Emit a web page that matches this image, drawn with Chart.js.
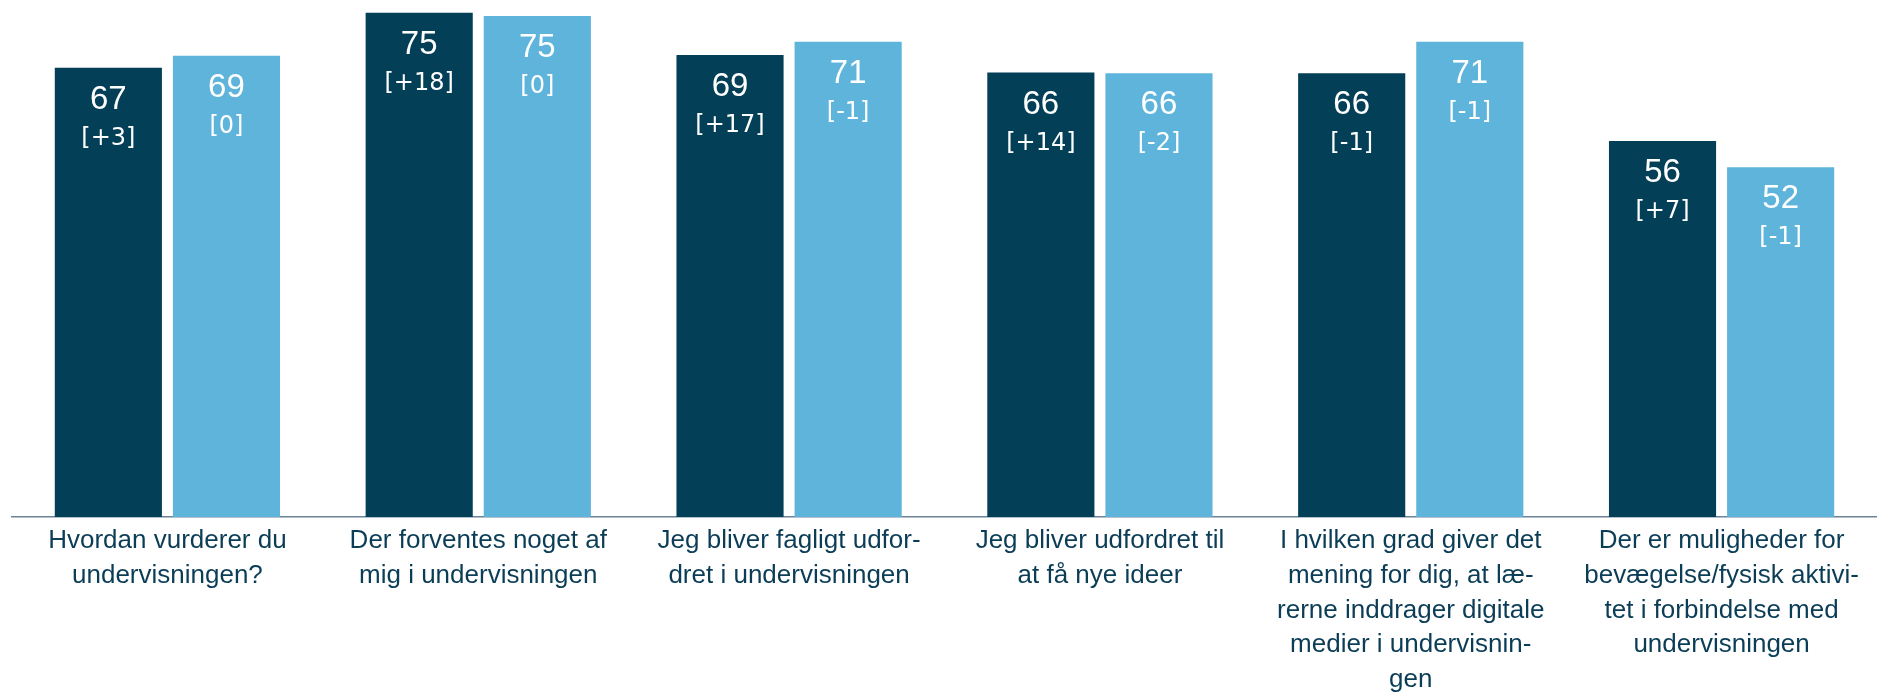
<!DOCTYPE html>
<html lang="da">
<head>
    <meta charset="UTF-8">
    <title>Undervisning</title>
    <style>
        body {
            margin: 0;
            background-color: #ffffff;
        }
        canvas {
            display: block;
        }
    </style>
    <script src="https://cdn.jsdelivr.net/npm/chart.js"></script>
</head>
<body>
    <canvas id="barChart" width="1877" height="694"></canvas>
    <script>
        const categories = [
            ['Hvordan vurderer du', 'undervisningen?'],
            ['Der forventes noget af', 'mig i undervisningen'],
            ['Jeg bliver fagligt udfor-', 'dret i undervisningen'],
            ['Jeg bliver udfordret til', 'at få nye ideer'],
            ['I hvilken grad giver det', 'mening for dig, at læ-', 'rerne inddrager digitale', 'medier i undervisnin-', 'gen'],
            ['Der er muligheder for', 'bevægelse/fysisk aktivi-', 'tet i forbindelse med', 'undervisningen']
        ];
        const darkValues = [66.9, 75.1, 68.8, 66.2, 66.1, 56.0];
        const lightValues = [68.7, 74.6, 70.8, 66.1, 70.8, 52.1];
        const darkChanges = ['+3', '+18', '+17', '+14', '-1', '+7'];
        const lightChanges = ['0', '0', '-1', '-2', '-1', '-1'];

        const changes = [darkChanges, lightChanges];

        // value + change written inside the top of each bar
        const barText = {
            id: 'barText',
            afterDatasetsDraw(chart) {
                const ctx = chart.ctx;
                ctx.save();
                ctx.fillStyle = '#ffffff';
                ctx.textAlign = 'center';
                ctx.textBaseline = 'middle';
                chart.data.datasets.forEach((ds, i) => {
                    chart.getDatasetMeta(i).data.forEach((bar, j) => {
                        ctx.font = '33px "Liberation Sans"';
                        ctx.fillText(Math.round(ds.data[j]), bar.x, bar.y + 32);
                        ctx.font = '24px "DejaVu Sans"';
                        ctx.fillText('[' + changes[i][j] + ']', bar.x, bar.y + 71);
                    });
                });
                ctx.restore();
            }
        };

        const ctx = document.getElementById('barChart').getContext('2d');
        const chart = new Chart(ctx, {
            type: 'bar',
            data: {
                labels: categories,
                datasets: [{
                    label: 'Skolen',
                    data: darkValues,
                    backgroundColor: '#033f56',
                    categoryPercentage: 0.76,
                    barPercentage: 0.907
                }, {
                    label: 'Landsgennemsnit',
                    data: lightValues,
                    backgroundColor: '#5eb4da',
                    categoryPercentage: 0.76,
                    barPercentage: 0.907
                }]
            },
            options: {
                responsive: false,
                animation: false,
                layout: {
                    padding: { left: 12, right: 0, top: 0, bottom: 0 }
                },
                scales: {
                    x: {
                        afterFit(scale) {
                            scale.height = 177;
                        },
                        grid: { display: false, drawTicks: false },
                        border: { display: true, color: '#6b8499', width: 1.5 },
                        ticks: {
                            color: '#0b3d57',
                            padding: 7,
                            maxRotation: 0,
                            autoSkip: false,
                            font: { family: 'Liberation Sans', size: 26, lineHeight: 1.33 }
                        }
                    },
                    y: {
                        display: false,
                        min: 0,
                        max: 77
                    }
                },
                plugins: {
                    legend: { display: false },
                    tooltip: { enabled: false }
                }
            },
            plugins: [barText]
        });
    </script>
</body>
</html>
